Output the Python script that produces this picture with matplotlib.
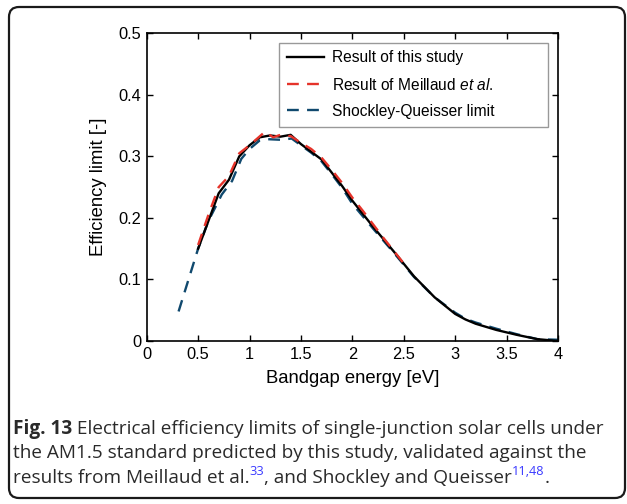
import matplotlib
matplotlib.use("Agg")
import matplotlib.pyplot as plt
from matplotlib.patches import FancyBboxPatch

# ---- data ----
study_x = [0.5, 0.7, 0.8, 0.9, 1.0, 1.1, 1.2, 1.3, 1.4, 1.5, 1.7, 1.9, 2.0, 2.2, 2.4,
           2.6, 2.8, 3.0, 3.1, 3.2, 3.4, 3.6, 3.8, 4.0]
study_y = [0.150, 0.240, 0.262, 0.300, 0.318, 0.331, 0.334, 0.332, 0.335, 0.320, 0.295,
           0.252, 0.228, 0.186, 0.146, 0.105, 0.071, 0.044, 0.035, 0.028, 0.018, 0.010,
           0.003, 0.000]

meillaud_x = [0.5, 0.6, 0.7, 0.8, 0.9, 1.0, 1.15, 1.23, 1.3, 1.4, 1.5, 1.6, 1.7, 1.8,
              1.9, 2.0, 2.1, 2.2, 2.3, 2.4, 2.5]
meillaud_y = [0.156, 0.205, 0.250, 0.268, 0.305, 0.318, 0.340, 0.331, 0.335, 0.333, 0.322,
              0.312, 0.298, 0.278, 0.257, 0.233, 0.212, 0.190, 0.168, 0.147, 0.126]

sq_x = [0.31, 0.5, 0.6, 0.73, 0.83, 0.92, 1.0, 1.1, 1.17, 1.3, 1.41, 1.5, 1.6, 1.7, 1.8,
        1.9, 2.0, 2.2, 2.4, 2.6, 2.8, 3.0, 3.1, 3.2, 3.4, 3.6, 3.8, 4.0]
sq_y = [0.048, 0.150, 0.195, 0.238, 0.260, 0.296, 0.312, 0.326, 0.328, 0.327, 0.329, 0.318,
        0.306, 0.292, 0.271, 0.249, 0.223, 0.183, 0.144, 0.104, 0.071, 0.046, 0.036, 0.030,
        0.020, 0.011, 0.003, 0.002]

x_ticks = [0, 0.5, 1, 1.5, 2, 2.5, 3, 3.5, 4]
x_labels = ["0", "0.5", "1", "1.5", "2", "2.5", "3", "3.5", "4"]
y_ticks = [0, 0.1, 0.2, 0.3, 0.4, 0.5]
y_labels = ["0", "0.1", "0.2", "0.3", "0.4", "0.5"]

labels = ["Result of this study", "Result of Meillaud $\\it{et\\ al.}$", "Shockley-Queisser limit"]

RED = "#e5332a"
BLUE = "#10496e"

plt.rcParams["font.family"] = ["Liberation Sans", "DejaVu Sans"]
plt.rcParams["mathtext.fontset"] = "custom"
plt.rcParams["mathtext.it"] = "Liberation Sans:italic"
plt.rcParams["mathtext.rm"] = "Liberation Sans"

W, H = 627, 504
fig = plt.figure(figsize=(W / 100, H / 100), dpi=100)

# outer rounded frame
frame = FancyBboxPatch((9 / 100, (H - 498) / 100), 616 / 100, 491 / 100,
                       boxstyle="round,pad=0,rounding_size=0.1",
                       transform=fig.dpi_scale_trans, fill=False,
                       edgecolor="#1a1a1a", linewidth=1.6, zorder=0)
fig.patches.append(frame)

ax_l, ax_r, ax_t, ax_b = 146.7, 558, 33.3, 341
ax = fig.add_axes([ax_l / W, (H - ax_b) / H, (ax_r - ax_l) / W, (ax_b - ax_t) / H])

ax.plot(study_x, study_y, color="black", lw=1.7, label=labels[0], zorder=3)
ax.plot(meillaud_x, meillaud_y, color=RED, lw=1.7, dashes=(5, 3.5), label=labels[1], zorder=4)
ax.plot(sq_x, sq_y, color=BLUE, lw=1.7, dashes=(5, 3.5), label=labels[2], zorder=2)

ax.set_xlim(0, 4)
ax.set_ylim(0, 0.5)
ax.set_xticks(x_ticks)
ax.set_xticklabels(x_labels)
ax.set_yticks(y_ticks)
ax.set_yticklabels(y_labels)
ax.tick_params(direction="in", top=True, right=True, length=4, width=1,
               labelsize=11.8, pad=4)
for s in ax.spines.values():
    s.set_linewidth(1.2)

ax.set_xlabel("Bandgap energy [eV]", fontsize=13.3, labelpad=6)
ax.set_ylabel("Efficiency limit [-]", fontsize=13.3, labelpad=8)

leg_left = (279 - ax_l) / (ax_r - ax_l)
leg_w = (548 - 279) / (ax_r - ax_l)
leg_top = (ax_b - 42.7) / (ax_b - ax_t)
leg = ax.legend(loc="upper left", bbox_to_anchor=(leg_left, 0, leg_w, leg_top),
                mode="expand", borderaxespad=0,
                fontsize=11.2, frameon=True, fancybox=False, edgecolor="#808080",
                handlelength=2.4, labelspacing=0.72, borderpad=0.5, handletextpad=0.5)
leg.get_frame().set_linewidth(1.0)

# caption
renderer = fig.canvas.get_renderer()
cap_font = ["Open Sans", "DejaVu Sans"]
cap_size = 13.65
sup_size = 9.2
SUPC = "#3a3aff"


def put_line(pieces, x_px, y_px):
    x = x_px
    for text, kind in pieces:
        if kind == "sup":
            t = fig.text(x / W, (H - y_px + 8) / H, text, fontsize=sup_size,
                         family=cap_font, color=SUPC, va="baseline", ha="left")
        else:
            t = fig.text(x / W, (H - y_px) / H, text, fontsize=cap_size,
                         family=cap_font, color="#2a2a2a",
                         weight="bold" if kind == "bold" else "normal",
                         va="baseline", ha="left")
        bb = t.get_window_extent(renderer)
        x += bb.width


put_line([("Fig. 13", "bold"),
          (" Electrical efficiency limits of single-junction solar cells under", "n")], 13, 434)
put_line([("the AM1.5 standard predicted by this study, validated against the", "n")], 13, 458.5)
put_line([("results from Meillaud et al.", "n"), ("33", "sup"),
          (", and Shockley and Queisser", "n"), ("11,48", "sup"), (".", "n")], 13, 483)

fig.savefig("out.png", dpi=100)
